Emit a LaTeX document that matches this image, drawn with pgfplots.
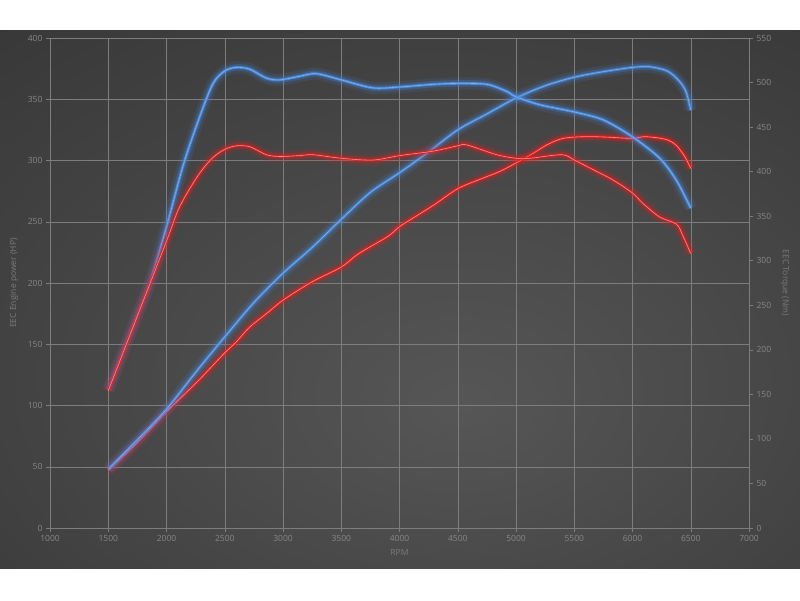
\documentclass[border=0pt]{standalone}
\usepackage{fontspec}
\setmainfont{Open Sans}
\usepackage{pgfplots}
\pgfplotsset{compat=1.18}
\usepackage{pgfplotstable}

\definecolor{bgin}{RGB}{86,86,86}
\definecolor{bgout}{RGB}{44,44,44}
\definecolor{gridc}{RGB}{125,125,125}
\definecolor{tickc}{RGB}{135,135,135}
\definecolor{labc}{RGB}{122,122,122}
\definecolor{blueglow}{RGB}{70,140,235}
\definecolor{bluecore}{RGB}{74,138,218}
\definecolor{bluehi}{RGB}{125,175,238}
\definecolor{redglow}{RGB}{235,30,30}
\definecolor{redcore}{RGB}{222,32,32}
\definecolor{redhi}{RGB}{255,140,140}

\pgfdeclareradialshading{bgshade}{\pgfpoint{4bp}{-10bp}}{color(0bp)=(bgin); color(58bp)=(bgout); color(90bp)=(bgout)}

\pgfplotstableread{
rpm val
1500 48
1750 72
2000 97
2250 127
2500 156
2750 184
3000 208
3250 229
3500 252
3750 274
4000 290
4250 307
4500 325
4750 338
5000 351
5250 361
5500 368
5750 372.5
6000 376
6150 376.5
6300 373
6400 365
6460 356
6500 341
}\bluepower

\pgfplotstableread{
rpm val
1500 47
1750 70
2000 95
2250 118
2400 133
2500 143
2600 152
2714 164
2871 176
3000 186
3250 201
3500 213
3650 224
3900 238
4000 246
4150 255
4300 264
4500 277
4700 285
4860 291
5000 298
5150 306
5260 312.5
5400 318
5600 319.5
5800 319
6000 318
6100 319.5
6250 318
6320 316
6380 312
6450 303
6500 293.5
}\redpower

\pgfplotstableread{
rpm val
1500 155
1750 239
1857 275
2000 338
2143 407
2286 462
2400 499
2500 513
2600 517
2714 515
2857 505
2971 503
3142 507
3285 510
3500 503
3771 494
4000 495
4290 498
4500 499
4750 498
4921 490
5000 484
5206 475
5500 467
5750 458
6000 439
6234 415
6378 390
6500 359
}\bluetorque

\pgfplotstableread{
rpm val
1500 154
1750 238
2000 322
2100 357
2200 381
2300 401
2400 416
2500 425
2600 429
2714 428
2857 419
2971 417
3142 418
3257 419
3500 415
3771 413
4000 418
4290 423
4500 429
4577 430
4834 419
5000 415
5120 415
5394 419
5500 413
5666 402
5834 390.5
6000 376
6092 364
6234 349
6378 341
6436 327
6500 308
}\redtorque

\pgfplotsset{
  myaxis/.style={
    scale only axis, width=699pt, height=490pt,
    at={(50pt,72pt)}, anchor=south west,
    xmin=1000, xmax=7000,
    font=\fontsize{8.5}{10}\selectfont,
    /pgf/number format/assume math mode=true,
    /pgf/number format/1000 sep={},
    ticklabel style={text=tickc},
    tick style={draw=gridc, line width=0.5pt},
    axis line style={draw=gridc, line width=0.6pt},
    tick align=outside, major tick length=4pt,
    label style={text=labc},
  },
  glowA/.style={#1, opacity=0.12, line width=12pt, smooth, tension=0.5, no markers, forget plot},
  glowB/.style={#1, opacity=0.25, line width=6.5pt, smooth, tension=0.5, no markers, forget plot},
  coreL/.style={#1, line width=2.6pt, smooth, tension=0.5, no markers, forget plot},
  hiL/.style={#1, line width=0.6pt, smooth, tension=0.5, no markers, forget plot},
}

\begin{document}
\begin{tikzpicture}
\useasboundingbox (0pt,0pt) rectangle (800pt,600pt);
\fill[white] (0pt,0pt) rectangle (800pt,600pt);
\shade[shading=bgshade] (0pt,32pt) rectangle (800pt,569pt);

\begin{axis}[myaxis,
  ymin=0, ymax=400, ytick={0,50,...,400},
  xtick={1000,1500,...,7000},
  grid=major, major grid style={draw=gridc, line width=0.5pt},
  axis x line*=bottom, axis y line*=left,
  xlabel={RPM}, ylabel={EEC Engine power (HP)},
  xlabel style={at={(axis description cs:0.5,-0.049)}, anchor=center},
  ylabel style={at={(axis description cs:-0.0515,0.5)}, anchor=center},
]
\addplot[glowA=redglow] table[x=rpm,y=val] {\redpower};
\addplot[glowB=redglow] table[x=rpm,y=val] {\redpower};
\addplot[coreL=redcore] table[x=rpm,y=val] {\redpower};
\addplot[hiL=redhi] table[x=rpm,y=val] {\redpower};
\addplot[glowA=blueglow] table[x=rpm,y=val] {\bluepower};
\addplot[glowB=blueglow] table[x=rpm,y=val] {\bluepower};
\addplot[coreL=bluecore, opacity=0.85] table[x=rpm,y=val] {\bluepower};
\addplot[hiL=bluehi] table[x=rpm,y=val] {\bluepower};
\end{axis}

\begin{axis}[myaxis,
  ymin=0, ymax=550, ytick={0,50,...,550},
  axis x line=none, axis y line*=right,
  ylabel={EEC Torque (Nm)},
  ylabel style={at={(axis description cs:1.0515,0.5)}, anchor=center, rotate=180},
]
\addplot[glowA=blueglow] table[x=rpm,y=val] {\bluetorque};
\addplot[glowB=blueglow] table[x=rpm,y=val] {\bluetorque};
\addplot[coreL=bluecore] table[x=rpm,y=val] {\bluetorque};
\addplot[hiL=bluehi] table[x=rpm,y=val] {\bluetorque};
\addplot[glowA=redglow] table[x=rpm,y=val] {\redtorque};
\addplot[glowB=redglow] table[x=rpm,y=val] {\redtorque};
\addplot[coreL=redcore, opacity=0.8] table[x=rpm,y=val] {\redtorque};
\addplot[hiL=redhi] table[x=rpm,y=val] {\redtorque};
\end{axis}
\end{tikzpicture}
\end{document}
